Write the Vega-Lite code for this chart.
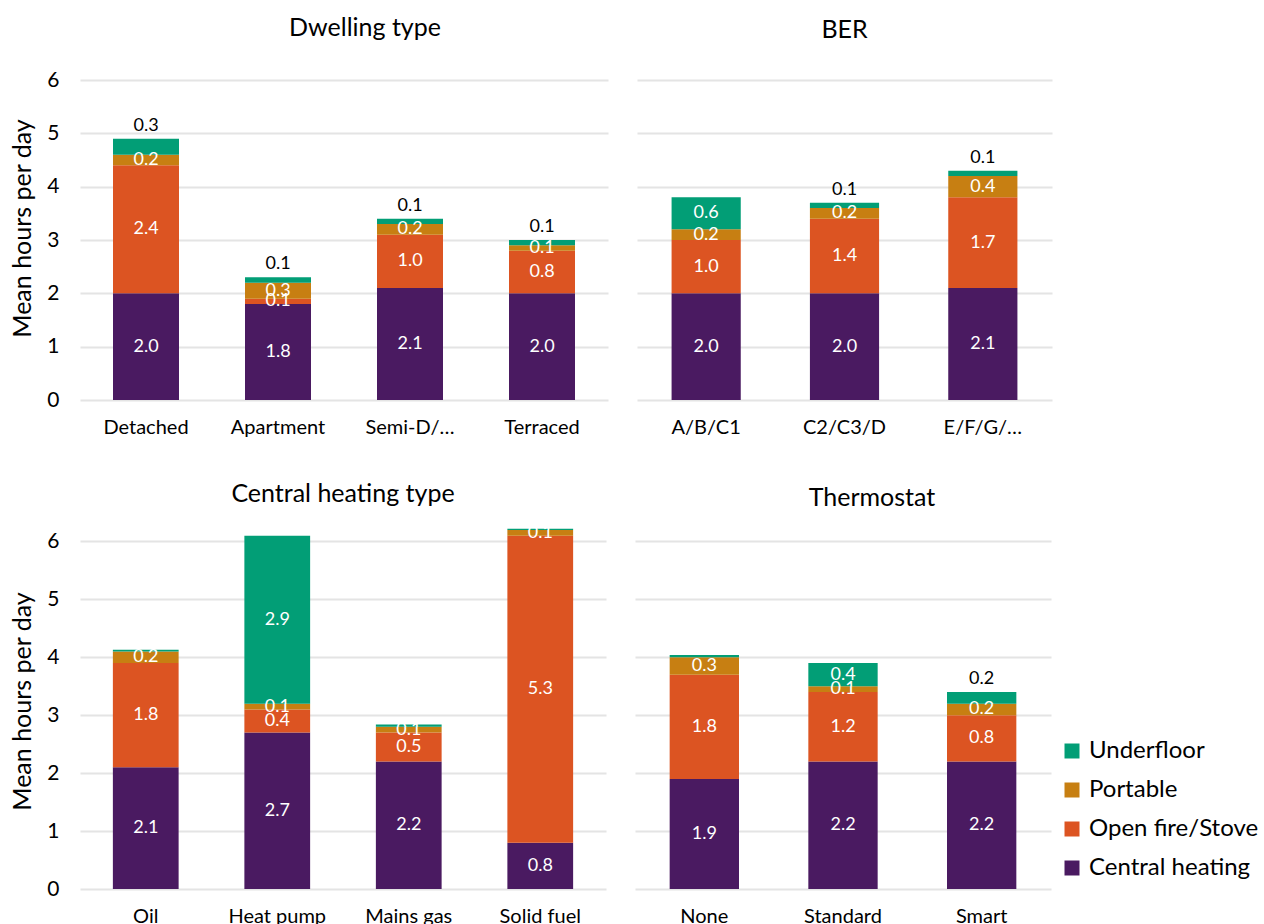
{
  "$schema": "https://vega.github.io/schema/vega-lite/v6.json",
  "padding": {"left": 10, "top": 16, "right": 0, "bottom": 0},
  "background": "white",
  "datasets": {
    "hours": [
      {"group": "Dwelling type", "category": "Detached", "type": "Central heating", "hours": 2.0},
      {"group": "Dwelling type", "category": "Detached", "type": "Open fire/Stove", "hours": 2.4},
      {"group": "Dwelling type", "category": "Detached", "type": "Portable", "hours": 0.2},
      {"group": "Dwelling type", "category": "Detached", "type": "Underfloor", "hours": 0.3},
      {"group": "Dwelling type", "category": "Apartment", "type": "Central heating", "hours": 1.8},
      {"group": "Dwelling type", "category": "Apartment", "type": "Open fire/Stove", "hours": 0.1},
      {"group": "Dwelling type", "category": "Apartment", "type": "Portable", "hours": 0.3},
      {"group": "Dwelling type", "category": "Apartment", "type": "Underfloor", "hours": 0.1},
      {"group": "Dwelling type", "category": "Semi-D/…", "type": "Central heating", "hours": 2.1},
      {"group": "Dwelling type", "category": "Semi-D/…", "type": "Open fire/Stove", "hours": 1.0},
      {"group": "Dwelling type", "category": "Semi-D/…", "type": "Portable", "hours": 0.2},
      {"group": "Dwelling type", "category": "Semi-D/…", "type": "Underfloor", "hours": 0.1},
      {"group": "Dwelling type", "category": "Terraced", "type": "Central heating", "hours": 2.0},
      {"group": "Dwelling type", "category": "Terraced", "type": "Open fire/Stove", "hours": 0.8},
      {"group": "Dwelling type", "category": "Terraced", "type": "Portable", "hours": 0.1},
      {"group": "Dwelling type", "category": "Terraced", "type": "Underfloor", "hours": 0.1},
      {"group": "BER", "category": "A/B/C1", "type": "Central heating", "hours": 2.0},
      {"group": "BER", "category": "A/B/C1", "type": "Open fire/Stove", "hours": 1.0},
      {"group": "BER", "category": "A/B/C1", "type": "Portable", "hours": 0.2},
      {"group": "BER", "category": "A/B/C1", "type": "Underfloor", "hours": 0.6},
      {"group": "BER", "category": "C2/C3/D", "type": "Central heating", "hours": 2.0},
      {"group": "BER", "category": "C2/C3/D", "type": "Open fire/Stove", "hours": 1.4},
      {"group": "BER", "category": "C2/C3/D", "type": "Portable", "hours": 0.2},
      {"group": "BER", "category": "C2/C3/D", "type": "Underfloor", "hours": 0.1},
      {"group": "BER", "category": "E/F/G/…", "type": "Central heating", "hours": 2.1},
      {"group": "BER", "category": "E/F/G/…", "type": "Open fire/Stove", "hours": 1.7},
      {"group": "BER", "category": "E/F/G/…", "type": "Portable", "hours": 0.4},
      {"group": "BER", "category": "E/F/G/…", "type": "Underfloor", "hours": 0.1},
      {"group": "Central heating type", "category": "Oil", "type": "Central heating", "hours": 2.1},
      {"group": "Central heating type", "category": "Oil", "type": "Open fire/Stove", "hours": 1.8},
      {"group": "Central heating type", "category": "Oil", "type": "Portable", "hours": 0.2},
      {"group": "Central heating type", "category": "Oil", "type": "Underfloor", "hours": 0.03},
      {"group": "Central heating type", "category": "Heat pump", "type": "Central heating", "hours": 2.7},
      {"group": "Central heating type", "category": "Heat pump", "type": "Open fire/Stove", "hours": 0.4},
      {"group": "Central heating type", "category": "Heat pump", "type": "Portable", "hours": 0.1},
      {"group": "Central heating type", "category": "Heat pump", "type": "Underfloor", "hours": 2.9},
      {"group": "Central heating type", "category": "Mains gas", "type": "Central heating", "hours": 2.2},
      {"group": "Central heating type", "category": "Mains gas", "type": "Open fire/Stove", "hours": 0.5},
      {"group": "Central heating type", "category": "Mains gas", "type": "Portable", "hours": 0.1},
      {"group": "Central heating type", "category": "Mains gas", "type": "Underfloor", "hours": 0.04},
      {"group": "Central heating type", "category": "Solid fuel", "type": "Central heating", "hours": 0.8},
      {"group": "Central heating type", "category": "Solid fuel", "type": "Open fire/Stove", "hours": 5.3},
      {"group": "Central heating type", "category": "Solid fuel", "type": "Portable", "hours": 0.1},
      {"group": "Central heating type", "category": "Solid fuel", "type": "Underfloor", "hours": 0.02},
      {"group": "Thermostat", "category": "None", "type": "Central heating", "hours": 1.9},
      {"group": "Thermostat", "category": "None", "type": "Open fire/Stove", "hours": 1.8},
      {"group": "Thermostat", "category": "None", "type": "Portable", "hours": 0.3},
      {"group": "Thermostat", "category": "None", "type": "Underfloor", "hours": 0.04},
      {"group": "Thermostat", "category": "Standard", "type": "Central heating", "hours": 2.2},
      {"group": "Thermostat", "category": "Standard", "type": "Open fire/Stove", "hours": 1.2},
      {"group": "Thermostat", "category": "Standard", "type": "Portable", "hours": 0.1},
      {"group": "Thermostat", "category": "Standard", "type": "Underfloor", "hours": 0.4},
      {"group": "Thermostat", "category": "Smart", "type": "Central heating", "hours": 2.2},
      {"group": "Thermostat", "category": "Smart", "type": "Open fire/Stove", "hours": 0.8},
      {"group": "Thermostat", "category": "Smart", "type": "Portable", "hours": 0.2},
      {"group": "Thermostat", "category": "Smart", "type": "Underfloor", "hours": 0.2}
    ]
  },
  "data": {"name": "hours"},
  "transform": [
    {"calculate": "indexof(['Central heating', 'Open fire/Stove', 'Portable', 'Underfloor'], datum.type)", "as": "layer"},
    {"stack": "hours", "groupby": ["group", "category"], "sort": [{"field": "layer", "order": "ascending"}], "as": ["y0", "y1"]},
    {"calculate": "(datum.y0 + datum.y1) / 2", "as": "ymid"},
    {"calculate": "datum.type === 'Underfloor' && datum.hours <= 0.3 ? (datum.hours >= 0.05 ? 'top' : 'none') : 'in'", "as": "pos"}
  ],
  "config": {
    "font": "Lato",
    "view": {"stroke": null},
    "axis": {
      "domain": false,
      "ticks": false,
      "labelFont": "Lato",
      "labelFontSize": 20,
      "labelColor": "#000000",
      "titleFont": "Lato",
      "titleFontWeight": "normal",
      "titleColor": "#000000",
      "gridColor": "#e4e4e4",
      "gridWidth": 2
    },
    "axisX": {"grid": false, "labelAngle": 0, "labelPadding": 17, "title": null},
    "axisY": {"labelPadding": 21, "labelFontSize": 21, "format": "d", "titleFontSize": 25, "titlePadding": 11},
    "title": {"fontSize": 25, "fontWeight": "normal", "color": "#000000", "font": "Lato", "frame": "group", "anchor": "middle"},
    "legend": {
      "orient": "none",
      "legendX": 980,
      "legendY": 659,
      "title": null,
      "symbolType": "square",
      "symbolSize": 225,
      "symbolStrokeWidth": 0,
      "labelFont": "Lato",
      "labelFontSize": 24,
      "labelColor": "#000000",
      "labelLimit": 0,
      "labelOffset": 5,
      "rowPadding": 15
    },
    "text": {"font": "Lato", "fontSize": 18}
  },
  "spacing": 44,
  "vconcat": [
    {
      "spacing": 29,
      "hconcat": [
        {
          "title": {"text": "Dwelling type", "offset": 28, "dx": 21},
          "width": 528,
          "height": 320,
          "transform": [{"filter": "datum.group === 'Dwelling type'"}],
          "encoding": {
            "x": {"field": "category", "type": "nominal", "sort": ["Detached", "Apartment", "Semi-D/…", "Terraced"], "scale": {"paddingInner": 0.5, "paddingOuter": 0.25}}
          },
          "layer": [
            {
              "mark": {"type": "bar"},
              "encoding": {
                "y": {"field": "y0", "type": "quantitative", "scale": {"domain": [0, 6]}, "axis": {"title": "Mean hours per day", "titleY": 148, "values": [0, 1, 2, 3, 4, 5, 6]}},
                "y2": {"field": "y1"},
                "color": {"field": "type", "type": "nominal", "scale": {"domain": ["Underfloor", "Portable", "Open fire/Stove", "Central heating"], "range": ["#029e76", "#c77f12", "#dc5422", "#4a1a61"]}}
              }
            },
            {
              "transform": [{"filter": "datum.pos === 'in'"}],
              "mark": {"type": "text", "color": "#ffffff"},
              "encoding": {"y": {"field": "ymid", "type": "quantitative"}, "text": {"field": "hours", "format": ".1f"}}
            },
            {
              "transform": [{"filter": "datum.pos === 'top'"}],
              "mark": {"type": "text", "color": "#000000", "baseline": "bottom", "dy": -4},
              "encoding": {"y": {"field": "y1", "type": "quantitative"}, "text": {"field": "hours", "format": ".1f"}}
            }
          ]
        },
        {
          "title": {"text": "BER", "offset": 37},
          "width": 415,
          "height": 320,
          "transform": [{"filter": "datum.group === 'BER'"}],
          "encoding": {
            "x": {"field": "category", "type": "nominal", "sort": ["A/B/C1", "C2/C3/D", "E/F/G/…"], "scale": {"paddingInner": 0.5, "paddingOuter": 0.25}}
          },
          "layer": [
            {
              "mark": {"type": "bar"},
              "encoding": {
                "y": {"field": "y0", "type": "quantitative", "scale": {"domain": [0, 6]}, "axis": {"title": null, "labels": false, "values": [0, 1, 2, 3, 4, 5, 6]}},
                "y2": {"field": "y1"},
                "color": {"field": "type", "type": "nominal"}
              }
            },
            {
              "transform": [{"filter": "datum.pos === 'in'"}],
              "mark": {"type": "text", "color": "#ffffff"},
              "encoding": {"y": {"field": "ymid", "type": "quantitative"}, "text": {"field": "hours", "format": ".1f"}}
            },
            {
              "transform": [{"filter": "datum.pos === 'top'"}],
              "mark": {"type": "text", "color": "#000000", "baseline": "bottom", "dy": -4},
              "encoding": {"y": {"field": "y1", "type": "quantitative"}, "text": {"field": "hours", "format": ".1f"}}
            }
          ]
        }
      ]
    },
    {
      "spacing": 29,
      "hconcat": [
        {
          "title": {"text": "Central heating type", "offset": 17},
          "width": 526,
          "height": 362,
          "transform": [{"filter": "datum.group === 'Central heating type'"}],
          "encoding": {
            "x": {"field": "category", "type": "nominal", "sort": ["Oil", "Heat pump", "Mains gas", "Solid fuel"], "scale": {"paddingInner": 0.5, "paddingOuter": 0.25}}
          },
          "layer": [
            {
              "mark": {"type": "bar"},
              "encoding": {
                "y": {"field": "y0", "type": "quantitative", "scale": {"domain": [0, 6.25], "nice": false}, "axis": {"title": "Mean hours per day", "titleY": 174, "values": [0, 1, 2, 3, 4, 5, 6]}},
                "y2": {"field": "y1"},
                "color": {"field": "type", "type": "nominal"}
              }
            },
            {
              "transform": [{"filter": "datum.pos === 'in'"}],
              "mark": {"type": "text", "color": "#ffffff"},
              "encoding": {"y": {"field": "ymid", "type": "quantitative"}, "text": {"field": "hours", "format": ".1f"}}
            },
            {
              "transform": [{"filter": "datum.pos === 'top'"}],
              "mark": {"type": "text", "color": "#000000", "baseline": "bottom", "dy": -4},
              "encoding": {"y": {"field": "y1", "type": "quantitative"}, "text": {"field": "hours", "format": ".1f"}}
            }
          ]
        },
        {
          "title": {"text": "Thermostat", "offset": 16, "dx": 29},
          "width": 416,
          "height": 362,
          "transform": [{"filter": "datum.group === 'Thermostat'"}],
          "encoding": {
            "x": {"field": "category", "type": "nominal", "sort": ["None", "Standard", "Smart"], "scale": {"paddingInner": 0.5, "paddingOuter": 0.25}}
          },
          "layer": [
            {
              "mark": {"type": "bar"},
              "encoding": {
                "y": {"field": "y0", "type": "quantitative", "scale": {"domain": [0, 6.25], "nice": false}, "axis": {"title": null, "labels": false, "values": [0, 1, 2, 3, 4, 5, 6]}},
                "y2": {"field": "y1"},
                "color": {"field": "type", "type": "nominal"}
              }
            },
            {
              "transform": [{"filter": "datum.pos === 'in'"}],
              "mark": {"type": "text", "color": "#ffffff"},
              "encoding": {"y": {"field": "ymid", "type": "quantitative"}, "text": {"field": "hours", "format": ".1f"}}
            },
            {
              "transform": [{"filter": "datum.pos === 'top'"}],
              "mark": {"type": "text", "color": "#000000", "baseline": "bottom", "dy": -4},
              "encoding": {"y": {"field": "y1", "type": "quantitative"}, "text": {"field": "hours", "format": ".1f"}}
            }
          ]
        }
      ]
    }
  ]
}
